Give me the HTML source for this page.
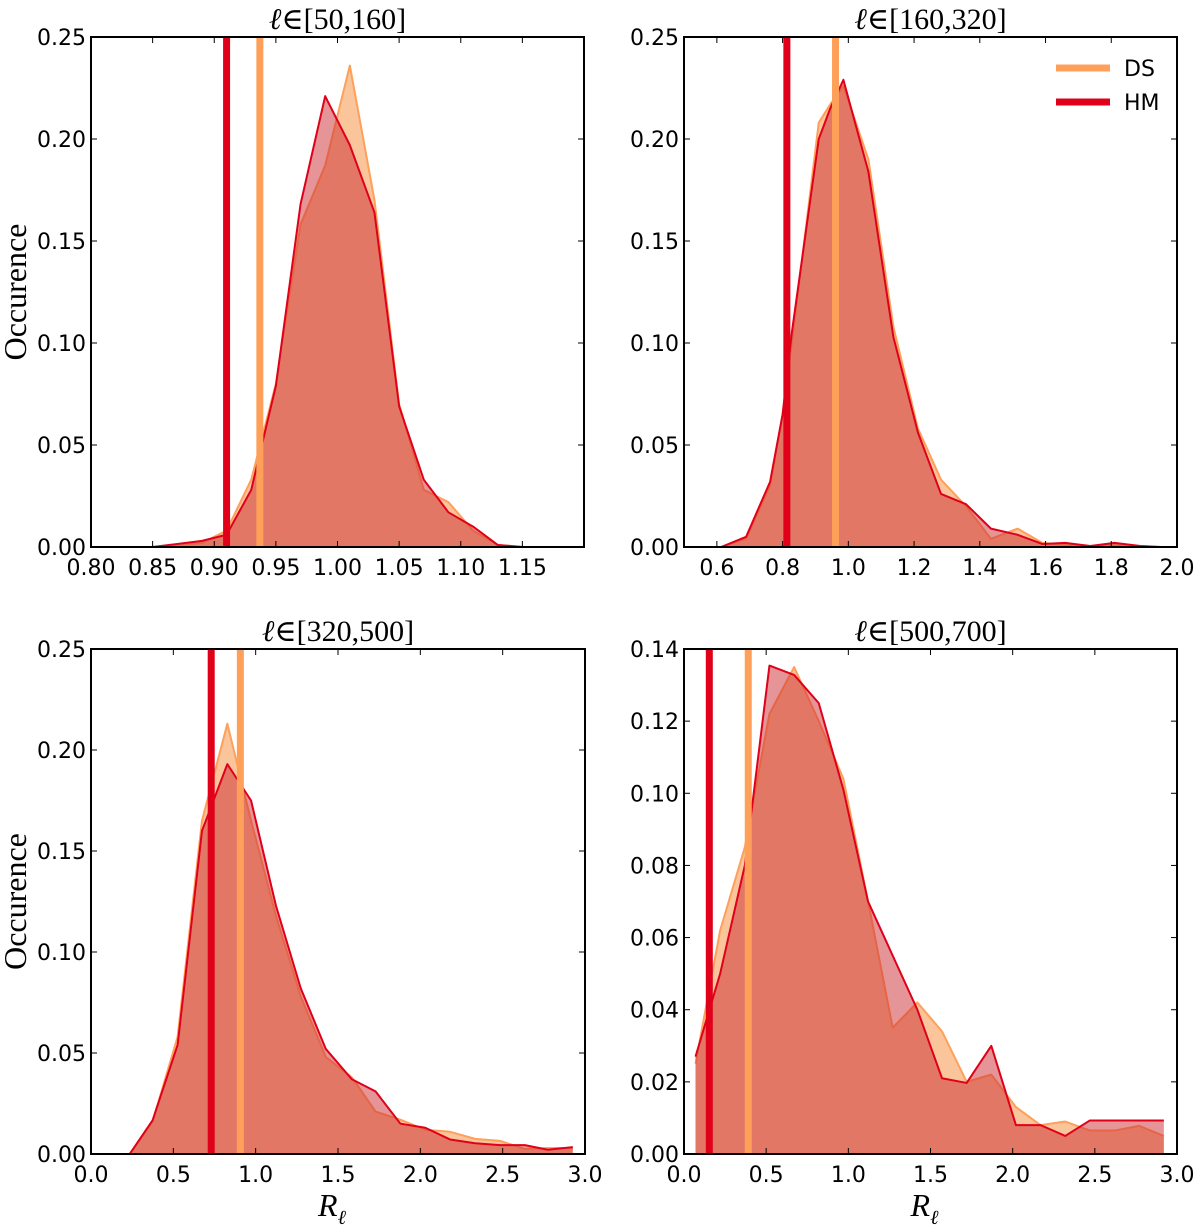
<!DOCTYPE html>
<html><head><meta charset="utf-8"><style>
html,body{margin:0;padding:0;background:#fff;}
svg{display:block;}
.tk{font-family:"DejaVu Sans","Liberation Sans",sans-serif;font-size:22px;fill:#000;}
.ser{font-family:"Liberation Serif","DejaVu Serif",serif;fill:#000;}
</style></head><body>
<svg id="fig" width="1200" height="1225" viewBox="0 0 1200 1225" xmlns="http://www.w3.org/2000/svg"></svg>
<script>
// Panel 1: l in [50,160]
const p1X = [0.85,0.87,0.89,0.91,0.93,0.95,0.97,0.99,1.01,1.03,1.05,1.07,1.09,1.11,1.13,1.15];
const p1HM = [0,0.0015,0.003,0.006,0.028,0.079,0.168,0.221,0.197,0.164,0.069,0.033,0.017,0.010,0.001,0];
const p1DS = [0,0.001,0.002,0.008,0.033,0.080,0.158,0.187,0.236,0.170,0.070,0.028,0.022,0.008,0.001,0];
const p1Vert = [0.910,0.937];
const p1XTicks = [0.80,0.85,0.90,0.95,1.00,1.05,1.10,1.15];
const p1YTicks = [0,0.05,0.10,0.15,0.20,0.25];
// Panel 2: l in [160,320]
const p2X = [0.613,0.689,0.762,0.800,0.828,0.910,0.945,0.985,1.061,1.137,1.212,1.282,1.358,1.434,1.515,1.590,1.660,1.736,1.810,1.888,1.950];
const p2HM = [0,0.005,0.032,0.065,0.105,0.200,0.215,0.229,0.184,0.103,0.056,0.026,0.021,0.009,0.006,0.0015,0.002,0.0005,0.002,0.0005,0];
const p2DS = [0,0.004,0.030,0.065,0.100,0.208,0.217,0.226,0.190,0.108,0.058,0.033,0.020,0.004,0.009,0.002,0.001,0.0005,0.001,0.0005,0];
const p2Vert = [0.813,0.961];
const p2XTicks = [0.6,0.8,1.0,1.2,1.4,1.6,1.8,2.0];
const p2YTicks = [0,0.05,0.10,0.15,0.20,0.25];
// Panel 3: l in [320,500]
const p3X = [0.235,0.374,0.526,0.674,0.828,0.972,1.123,1.274,1.426,1.584,1.728,1.879,2.030,2.180,2.333,2.484,2.635,2.774,2.926];
const p3HM = [0,0.0167,0.054,0.160,0.193,0.175,0.123,0.082,0.052,0.037,0.031,0.015,0.013,0.0072,0.0053,0.0044,0.0044,0.0021,0.0034];
const p3DS = [0,0.016,0.058,0.165,0.213,0.165,0.118,0.078,0.048,0.038,0.021,0.017,0.012,0.011,0.0075,0.0065,0.0025,0.003,0.003];
const p3Vert = [0.730,0.907];
const p3XTicks = [0.0,0.5,1.0,1.5,2.0,2.5,3.0];
const p3YTicks = [0,0.05,0.10,0.15,0.20,0.25];
// Panel 4: l in [500,700]
const p4X = [0.07,0.22,0.37,0.52,0.67,0.82,0.97,1.12,1.27,1.42,1.57,1.72,1.87,2.02,2.17,2.32,2.47,2.62,2.77,2.92];
const p4HM = [0.027,0.050,0.080,0.1354,0.1328,0.125,0.101,0.070,0.055,0.040,0.021,0.0197,0.030,0.008,0.008,0.005,0.0093,0.0093,0.0093,0.0093];
const p4DS = [0.025,0.062,0.085,0.122,0.135,0.120,0.104,0.070,0.035,0.042,0.034,0.020,0.022,0.013,0.008,0.009,0.0065,0.0065,0.0078,0.005];
const p4Vert = [0.154,0.391];
const p4XTicks = [0.0,0.5,1.0,1.5,2.0,2.5,3.0];
const p4YTicks = [0,0.02,0.04,0.06,0.08,0.10,0.12,0.14];

const NS='http://www.w3.org/2000/svg';
const svg=document.getElementById('fig');
function mk(tag,attrs,parent){const e=document.createElementNS(NS,tag);for(const k in attrs)e.setAttribute(k,attrs[k]);(parent||svg).appendChild(e);return e;}

function panel(cfg){
  const g=mk('g',{});
  
  
  const L=cfg.L,R=cfg.R,T=cfg.T,B=cfg.B;
  const sx=v=>L+(v-cfg.x0)/(cfg.x1-cfg.x0)*(R-L);
  const sy=v=>B-(v-cfg.y0)/(cfg.y1-cfg.y0)*(B-T);
  function area(xs,ys,fill,op,stroke,nm){
    let d='M'+sx(xs[0])+','+sy(0);
    xs.forEach((x,i)=>{d+=' L'+sx(x)+','+sy(ys[i]);});
    d+=' L'+sx(xs[xs.length-1])+','+sy(0)+' Z';
    const a=mk('path',{d:d,fill:fill,'fill-opacity':op,stroke:'none'},g);
    
    
    let ld='';
    xs.forEach((x,i)=>{ld+=(i?' L':'M')+sx(x)+','+sy(ys[i]);});
    const l=mk('path',{d:ld,fill:'none',stroke:stroke,'stroke-width':2,'stroke-linejoin':'round'},g);
    
    
  }
  area(cfg.xs,cfg.ds,'#f78b39',0.5,'#fea05a','ds');
  area(cfg.xs,cfg.hm,'#cc2a30',0.5,'#e0001a','hm');
  const vh=mk('line',{x1:sx(cfg.vert[0]),x2:sx(cfg.vert[0]),y1:T,y2:B,stroke:'#e0001a','stroke-width':7},g);
  
  
  const vd=mk('line',{x1:sx(cfg.vert[1]),x2:sx(cfg.vert[1]),y1:T,y2:B,stroke:'#fea05a','stroke-width':7},g);
  
  
  cfg.xt.forEach(v=>{
    const x=sx(v);
    mk('line',{x1:x,x2:x,y1:B,y2:B-6,stroke:'#000','stroke-width':1},g);
    mk('line',{x1:x,x2:x,y1:T,y2:T+6,stroke:'#000','stroke-width':1},g);
    const t=mk('text',{x:x,y:B+28,'text-anchor':'middle',class:'tk'},g);
    
    
    t.textContent=v.toFixed(cfg.xd);
  });
  cfg.yt.forEach(v=>{
    const y=sy(v);
    mk('line',{x1:L,x2:L+6,y1:y,y2:y,stroke:'#000','stroke-width':1},g);
    mk('line',{x1:R,x2:R-6,y1:y,y2:y,stroke:'#000','stroke-width':1},g);
    const t=mk('text',{x:L-5,y:y+8,'text-anchor':'end',class:'tk'},g);
    
    
    t.textContent=v.toFixed(2);
  });
  const fr=mk('rect',{x:L,y:T,width:R-L,height:B-T,fill:'none',stroke:'#000','stroke-width':2},g);
  
  
  const tt=mk('text',{x:(L+R)/2,y:T-8,'text-anchor':'middle',class:'ser','font-size':'30px'},g);
  
  
  tt.innerHTML='<tspan font-style="italic">ℓ</tspan>∈['+cfg.title+']';
  if(cfg.ylab){
    const yl=mk('text',{x:0,y:0,'text-anchor':'middle',class:'ser','font-size':'32px',transform:'translate(26,'+((T+B)/2)+') rotate(-90)'},g);
    
    
    yl.textContent='Occurence';
  }
  if(cfg.xlab){
    const xl=mk('text',{x:(L+R)/2-6,y:B+62,'text-anchor':'middle',class:'ser','font-size':'32px','font-style':'italic'},g);
    
    
    xl.innerHTML='R<tspan font-size="20px" dy="8">ℓ</tspan>';
  }
  return {g,L,R,T,B};
}

panel({name:'panel-50-160',L:91,R:584,T:37,B:547,x0:0.8,x1:1.2,y0:0,y1:0.25,xs:p1X,hm:p1HM,ds:p1DS,vert:p1Vert,xt:p1XTicks,yt:p1YTicks,xd:2,title:'50,160',ylab:true});
panel({name:'panel-160-320',L:684,R:1177,T:37,B:547,x0:0.5,x1:2.0,y0:0,y1:0.25,xs:p2X,hm:p2HM,ds:p2DS,vert:p2Vert,xt:p2XTicks,yt:p2YTicks,xd:1,title:'160,320'});
panel({name:'panel-320-500',L:91,R:585,T:649,B:1154,x0:0,x1:3,y0:0,y1:0.25,xs:p3X,hm:p3HM,ds:p3DS,vert:p3Vert,xt:p3XTicks,yt:p3YTicks,xd:1,title:'320,500',ylab:true,xlab:true});
panel({name:'panel-500-700',L:684,R:1177,T:649,B:1154,x0:0,x1:3,y0:0,y1:0.14,xs:p4X,hm:p4HM,ds:p4DS,vert:p4Vert,xt:p4XTicks,yt:p4YTicks,xd:1,title:'500,700',xlab:true});

const lg=mk('g',{});


const l1=mk('line',{x1:1056,x2:1110,y1:68,y2:68,stroke:'#fea05a','stroke-width':7},lg);


const t1=mk('text',{x:1124,y:76,class:'tk','font-size':'22px'},lg);


t1.textContent='DS';
const l2=mk('line',{x1:1056,x2:1110,y1:102,y2:102,stroke:'#e0001a','stroke-width':7},lg);


const t2=mk('text',{x:1124,y:110,class:'tk','font-size':'22px'},lg);


t2.textContent='HM';
</script>
</body></html>
